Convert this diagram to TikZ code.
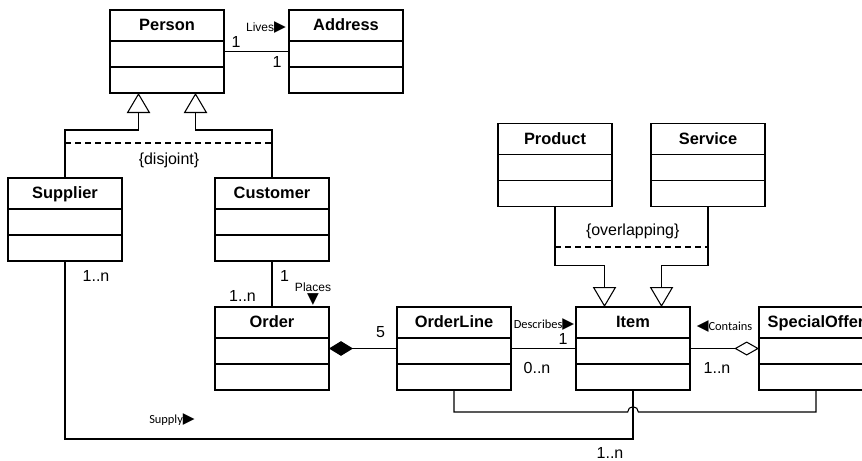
\documentclass[tikz,border=0pt]{standalone}
\usepackage{fontspec}
\setmainfont{Liberation Sans}
\newfontfamily\calfont{Carlito}
\newfontfamily\symfont{DejaVu Sans}
\newcommand{\tri}[1]{{\symfont\fontsize{11.5}{11.5}\selectfont #1}}
\usetikzlibrary{arrows.meta,calc}
\tikzset{
  umlclass/.style={draw, line width=1.1pt, minimum width=85.5pt, minimum height=62.25pt,
                   inner sep=0pt, outer sep=0pt,
                   path picture={
                     \draw[line width=1.1pt] ([yshift=-23.25pt]path picture bounding box.north west)
                          -- ([yshift=-23.25pt]path picture bounding box.north east);
                     \draw[line width=1.1pt] ([yshift=-42.75pt]path picture bounding box.north west)
                          -- ([yshift=-42.75pt]path picture bounding box.north east);
                   },
                   label={[anchor=base, yshift=-15.5pt, font=\fontsize{12.3}{14}\selectfont\bfseries]north:#1}},
  conn/.style={line width=0.8pt},
  genarrow/.style={conn, -{Triangle[open, length=15pt, width=17.5pt]}},
  constraint/.style={line width=0.8pt, dash pattern=on 4.5pt off 3pt},
  mult/.style={font=\fontsize{12}{14}\selectfont, inner sep=0pt},
  rolename/.style={font=\fontsize{9}{11}\selectfont, inner sep=0pt},
  calname/.style={font=\calfont\fontsize{9.3}{11}\selectfont, inner sep=0pt}
}
\begin{document}
\begin{tikzpicture}[x=0.75pt, y=-0.75pt]
  \clip (0,0) rectangle (862,460);
  \fill[white] (0,0) rectangle (862,460);

  % classes
  \node[umlclass=Person] (person) at (167,51.5) {};
  \node[umlclass=Address] (address) at (346,51.5) {};
  \node[umlclass=Supplier] (supplier) at (65,219.5) {};
  \node[umlclass=Customer] (customer) at (272,219.5) {};
  \node[umlclass=Order] (order) at (272,348.5) {};
  \node[umlclass=OrderLine] (orderline) at (454,348.5) {};
  \node[umlclass=Item] (item) at (633,348.5) {};
  \node[umlclass=SpecialOffer] (offer) at (816,348.5) {};
  \node[umlclass=Product] (product) at (555,165) {};
  \node[umlclass=Service] (service) at (708,165) {};

  % Person generalization
  \coordinate (pgA) at ($(person.south west)!0.25!(person.south east)$);
  \coordinate (pgB) at ($(person.south west)!0.75!(person.south east)$);
  \draw[genarrow] (supplier.north) -- ++(0,-48) -| (pgA);
  \draw[genarrow] (customer.north) -- ++(0,-48) -| (pgB);
  \coordinate (disj) at (169,143);
  \draw[constraint] (supplier.north |- disj) -- (customer.north |- disj);
  \node[mult] (disjlabel) at (169,160.5) {\{disjoint\}};

  % Item generalization
  \coordinate (igA) at ($(item.north west)!0.25!(item.north east)$);
  \coordinate (igB) at ($(item.north west)!0.75!(item.north east)$);
  \draw[genarrow] (product.south) -- ++(0,59) -| (igA);
  \draw[genarrow] (service.south) -- ++(0,59) -| (igB);
  \coordinate (ovl) at (632,247);
  \draw[constraint] (product.south |- ovl) -- (service.south |- ovl);
  \node[mult] (ovllabel) at (632.7,231.5) {\{overlapping\}};

  % associations
  \draw[conn] (person.east) -- (address.west);
  \node[rolename] (lives) at (266,28) {Lives\tri{▶}};
  \node[mult] (livesA) at (236,42) {1};
  \node[mult] (livesB) at (277,62) {1};

  \draw[conn] (customer.south) -- (order.north);
  \node[mult] (placesA) at (284.5,276) {1};
  \node[mult] (placesB) at (242.5,296) {1..n};
  \node[rolename] (places) at (313,287.5) {Places};
  \node[rolename] (placesdir) at (313,300) {\tri{▼}};

  \draw[conn, {Diamond[length=18pt, width=11pt]}-] (order.east) -- (orderline.west);
  \node[mult] (compmult) at (380.5,332.5) {5};

  \draw[conn] (orderline.east) -- (item.west);
  \node[calname] (describes) at (544,324.5) {Describes\tri{▶}};
  \node[mult] (descA) at (563,339) {1};
  \node[mult] (descB) at (537,367.5) {0..n};

  \draw[conn, -{Diamond[open, length=18.5pt, width=10.5pt]}] (item.east) -- (offer.west);
  \node[calname] (contains) at (724.5,326.5) {\tri{◀}Contains};
  \node[mult] (contmult) at (717,367.5) {1..n};

  % supply
  \draw[conn] (supplier.south) -- ++(0,178) -| (item.south);
  \node[mult] (supA) at (96,276) {1..n};
  \node[calname] (supply) at (172,420) {Supply\tri{▶}};
  \node[mult] (supB) at (610,453) {1..n};

  % orderline -- offer, hopping over supply
  \coordinate (hop) at ($(item.south)+(0,22)$);
  \draw[conn] (orderline.south) |- ([xshift=-4pt]hop) arc[start angle=180, end angle=0, radius=4pt] -| (offer.south);
\end{tikzpicture}
\end{document}
